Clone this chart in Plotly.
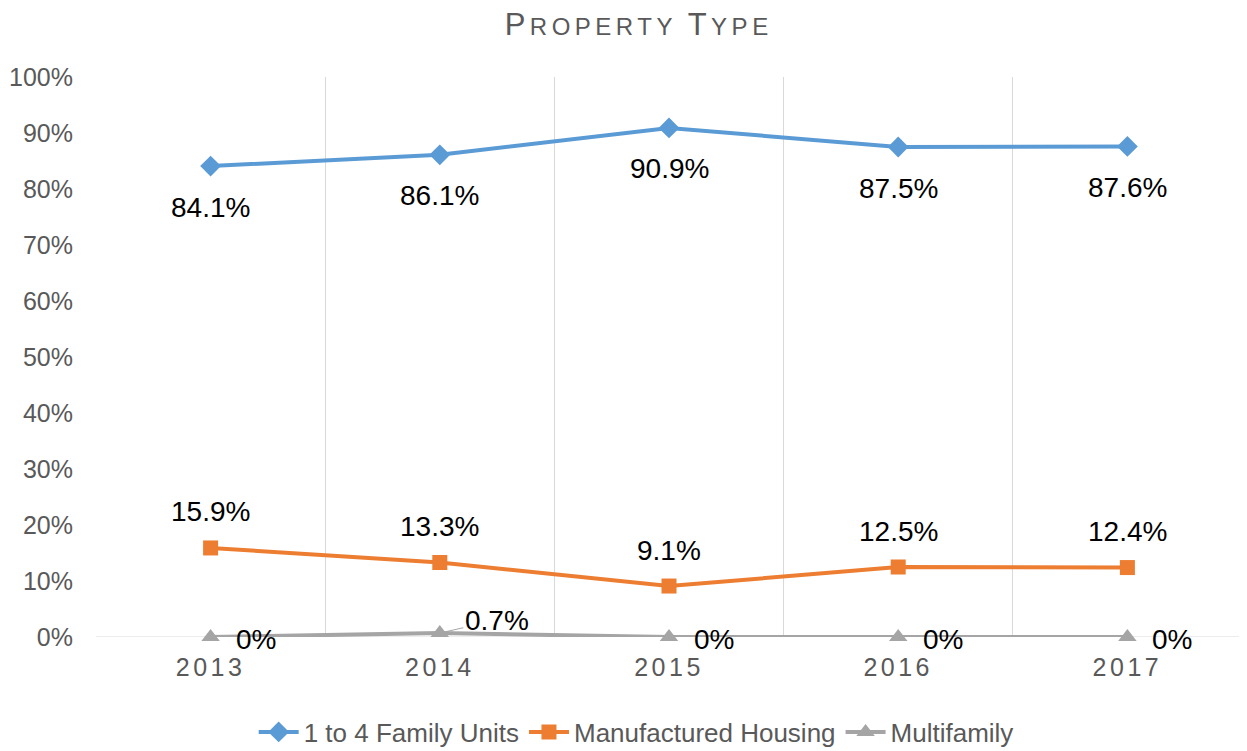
import plotly.graph_objects as go

years = ["2013", "2014", "2015", "2016", "2017"]
family_1to4 = [84.1, 86.1, 90.9, 87.5, 87.6]
manufactured = [15.9, 13.3, 9.1, 12.5, 12.4]
multifamily = [0, 0.7, 0, 0, 0]
fam_labels = ["84.1%", "86.1%", "90.9%", "87.5%", "87.6%"]
man_labels = ["15.9%", "13.3%", "9.1%", "12.5%", "12.4%"]
multi_labels = ["0%", "0.7%", "0%", "0%", "0%"]

BLUE = "#5B9BD5"
ORANGE = "#ED7D31"
GRAY = "#A5A5A5"
FONT = "Liberation Sans, Arial, sans-serif"

fig = go.Figure()
fig.add_trace(go.Scatter(x=years, y=family_1to4, name="1 to 4 Family Units", mode="lines+markers",
                         line=dict(color=BLUE, width=4), cliponaxis=False,
                         marker=dict(symbol="diamond", size=16, color=BLUE)))
fig.add_trace(go.Scatter(x=years, y=manufactured, name="Manufactured Housing", mode="lines+markers",
                         line=dict(color=ORANGE, width=4), cliponaxis=False,
                         marker=dict(symbol="square", size=15, color=ORANGE)))
fig.add_trace(go.Scatter(x=years, y=multifamily, name="Multifamily", mode="lines+markers",
                         line=dict(color=GRAY, width=4), cliponaxis=False,
                         marker=dict(symbol="triangle-up", size=16, color=GRAY)))

annos = []
lab_font = dict(family=FONT, size=28, color="#000000")
for i, (yv, t) in enumerate(zip(family_1to4, fam_labels)):
    annos.append(dict(x=i, y=yv, xref="x", yref="y", text=t, showarrow=False, yshift=-41, font=lab_font))
for i, (yv, t) in enumerate(zip(manufactured, man_labels)):
    annos.append(dict(x=i, y=yv, xref="x", yref="y", text=t, showarrow=False, yshift=36, font=lab_font))
for i, (yv, t) in enumerate(zip(multifamily, multi_labels)):
    if t == "0.7%":
        annos.append(dict(x=i, y=yv, xref="x", yref="y", text=t, showarrow=True, arrowhead=0, arrowwidth=1,
                          arrowcolor="#A6A6A6", ax=57, ay=-13, standoff=6, font=lab_font))
    else:
        annos.append(dict(x=i, y=yv, xref="x", yref="y", text=t, showarrow=False, xshift=45, yshift=-2,
                          font=lab_font))

title_text = ("<span style='letter-spacing:4.5px'><span style='font-size:31px'>P</span>ROPERTY "
              "<span style='font-size:31px'>T</span>YPE</span>")
tick_text = ["<span style='letter-spacing:3.5px'>%s</span>" % y for y in years]

fig.update_layout(
    width=1239, height=743,
    margin=dict(l=88, r=5, t=69, b=114, autoexpand=False),
    paper_bgcolor="white", plot_bgcolor="white",
    title=dict(text=title_text, x=0.509, xanchor="center", xref="container", y=0.975, yanchor="middle",
               font=dict(family=FONT, size=24, color="#595959")),
    font=dict(family=FONT, color="#595959"),
    xaxis=dict(type="category", tickson="boundaries", showgrid=True, gridcolor="#D9D9D9", gridwidth=1,
               ticks="", showline=False, zeroline=False, range=[-0.5, 4.5], automargin=False,
               tickvals=years, ticktext=tick_text,
               tickfont=dict(family=FONT, size=25, color="#595959"), ticklabelstandoff=13),
    yaxis=dict(range=[0, 100], dtick=10, ticksuffix="%", showgrid=False, zeroline=False,
               showline=False, ticks="", tickfont=dict(family=FONT, size=25, color="#595959"),
               ticklabelstandoff=22, automargin=False),
    legend=dict(orientation="h", xref="container", yref="container", x=0.507, xanchor="center",
                y=0.0256, yanchor="middle", font=dict(family=FONT, size=26, color="#595959"),
                itemwidth=40, tracegroupgap=0),
    annotations=annos,
    shapes=[dict(type="line", xref="paper", yref="y", x0=0, x1=1, y0=0, y1=0,
                 line=dict(color="#D9D9D9", width=1), layer="below")],
)

fig.write_html("out.html")
